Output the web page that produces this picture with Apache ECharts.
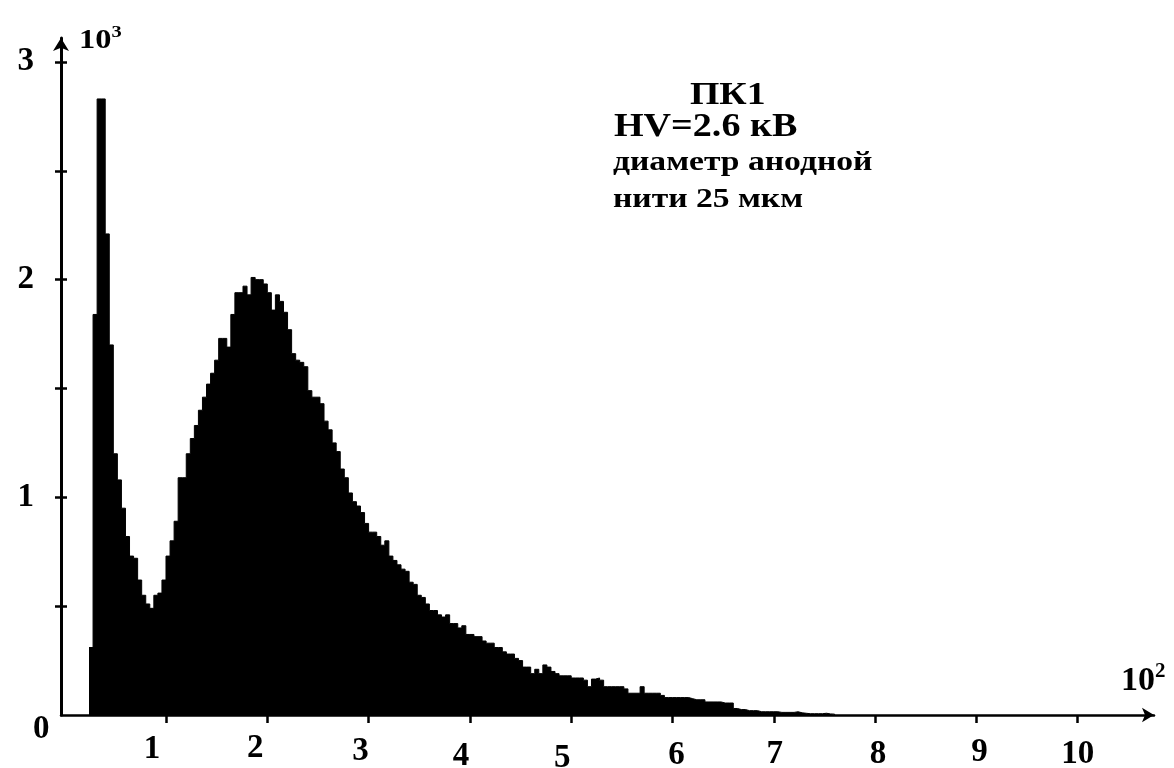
<!DOCTYPE html>
<html>
<head>
<meta charset="utf-8">
<script src="https://cdn.jsdelivr.net/npm/echarts@6/dist/echarts.min.js"></script>
<style>
html,body{margin:0;padding:0;background:#fff;}
#chart{width:1174px;height:768px;}
</style>
</head>
<body>
<div id="chart"></div>
<script>
// ---- data (x in units of 10^2 channels, counts in units of 10^3) ----
const binStart = 0.24;
const binWidth = 0.04;
const counts = [
  0.31, 1.84, 2.83, 2.83, 2.21, 1.70, 1.20, 1.08, 0.95, 0.82,
  0.73, 0.72, 0.62, 0.55, 0.51, 0.49, 0.55, 0.56, 0.62, 0.73,
  0.80, 0.89, 1.09, 1.09, 1.20, 1.27, 1.33, 1.40, 1.46, 1.52,
  1.57, 1.63, 1.73, 1.73, 1.69, 1.84, 1.94, 1.94, 1.97, 1.93,
  2.01, 2.00, 2.00, 1.98, 1.94, 1.86, 1.93, 1.90, 1.85, 1.77,
  1.66, 1.63, 1.62, 1.60, 1.49, 1.46, 1.46, 1.43, 1.35, 1.31,
  1.25, 1.21, 1.13, 1.09, 1.02, 0.98, 0.96, 0.93, 0.88, 0.84,
  0.84, 0.82, 0.78, 0.80, 0.73, 0.71, 0.69, 0.67, 0.66, 0.61,
  0.60, 0.55, 0.54, 0.51, 0.48, 0.48, 0.46, 0.45, 0.46, 0.42,
  0.42, 0.40, 0.41, 0.37, 0.37, 0.36, 0.36, 0.34, 0.33, 0.33,
  0.31, 0.31, 0.29, 0.28, 0.28, 0.26, 0.25, 0.22, 0.22, 0.19,
  0.21, 0.19, 0.23, 0.22, 0.20, 0.19, 0.18, 0.18, 0.18, 0.17,
  0.17, 0.17, 0.16, 0.13, 0.165, 0.17, 0.16, 0.13, 0.13, 0.13,
  0.13, 0.13, 0.12, 0.10, 0.10, 0.10, 0.13, 0.10, 0.10, 0.10,
  0.10, 0.09, 0.08, 0.08, 0.08, 0.08, 0.08, 0.08, 0.075, 0.07,
  0.07, 0.07, 0.06, 0.06, 0.06, 0.06, 0.055, 0.055, 0.055, 0.03,
  0.025, 0.025, 0.02, 0.02, 0.02, 0.015, 0.015, 0.015, 0.015, 0.015,
  0.012, 0.012, 0.012, 0.012, 0.015, 0.01, 0.008, 0.006, 0.006, 0.006,
  0.006, 0.008, 0.005, 0.004
];
const xTickValues = [1, 2, 3, 4, 5, 6, 7, 8, 9, 10];
const yTickValues = [0.5, 1, 1.5, 2, 2.5, 3];
const yLabelValues = [1, 2, 3];
const yZeroLabel = '0';
const xUnitBase = '10';
const xUnitExp = '2';
const yUnitBase = '10';
const yUnitExp = '3';
const annotationLines = ['ПК1', 'HV=2.6 кВ', 'диаметр анодной', 'нити 25 мкм'];

// ---- styles ----
const FONT = "'Liberation Serif', serif";
// hand-placed label shifts in the original figure (pixels)
const xLabelShift = {1:[-14,-4],2:[-12,-5],3:[-8,-2],4:[-9,3],5:[-9,5],6:[4,2],7:[1,1],8:[3,1],9:[3,-1],10:[0,1]};

const stepData = counts.map((v, i) => [binStart + i * binWidth, v]);
stepData.push([binStart + counts.length * binWidth, 0]);

const rich = {};
xTickValues.forEach(v => {
  const s = xLabelShift[v] || [0, 0];
  const dx = s[0], dy = s[1] + 5;
  rich['t' + v] = {
    fontFamily: FONT, fontWeight: 'bold', fontSize: 33, color: '#000',
    padding: [dy, dx < 0 ? -2 * dx : 0, 0, dx > 0 ? 2 * dx : 0]
  };
});

function txt(text, left, top, size, sx) {
  return {type: 'text', left: left, top: top, scaleX: sx, scaleY: 1,
    style: {text: text, fontFamily: FONT, fontWeight: 'bold', fontSize: size, fill: '#000'}};
}

const chart = echarts.init(document.getElementById('chart'), null, {renderer: 'canvas'});
chart.setOption({
  backgroundColor: '#fff',
  animation: false,
  grid: {left: 61, right: 20, top: 38, bottom: 53, containLabel: false, outerBoundsMode: 'none'},
  xAxis: {
    type: 'value', min: -0.0365, max: 10.753,
    axisLine: {show: true, onZero: false, symbol: ['none', 'arrow'], symbolSize: [11, 12],
      lineStyle: {color: '#000', width: 2.5}},
    axisTick: {show: true, customValues: xTickValues, length: 8, inside: false,
      lineStyle: {color: '#000', width: 2.5}},
    axisLabel: {show: true, customValues: xTickValues, margin: 17,
      formatter: v => '{t' + v + '|' + v + '}', rich: rich},
    splitLine: {show: false}
  },
  yAxis: [{
    type: 'value', min: 0, max: 3.11, position: 'left',
    axisLine: {show: true, onZero: false, symbol: ['none', 'arrow'], symbolSize: [12, 13],
      lineStyle: {color: '#000', width: 3}},
    axisTick: {show: true, customValues: yTickValues, length: 6, inside: false,
      lineStyle: {color: '#000', width: 2.5}},
    axisLabel: {show: true, customValues: yLabelValues, margin: 27, padding: [10, 0, 0, 0],
      fontFamily: FONT, fontWeight: 'bold', fontSize: 33, color: '#000'},
    splitLine: {show: false}
  }, {
    type: 'value', min: 0, max: 3.11, position: 'left', offset: 0,
    axisLine: {show: false, onZero: false},
    axisTick: {show: true, customValues: yTickValues, length: 6, inside: true,
      lineStyle: {color: '#000', width: 2.5}},
    axisLabel: {show: false},
    splitLine: {show: false}
  }],
  series: [{
    type: 'line', step: 'end', data: stepData, xAxisIndex: 0, yAxisIndex: 0,
    showSymbol: false, symbol: 'none',
    lineStyle: {color: '#000', width: 1},
    areaStyle: {color: '#000', opacity: 1},
    z: 1
  }],
  graphic: [
    txt(yZeroLabel, 33, 713, 33, 1),
    {type: 'text', left: 79, top: 24, scaleX: 1.2, scaleY: 1, style: {text: '{b|' + yUnitBase + '}{s|' + yUnitExp + '}',
      rich: {b: {fontFamily: FONT, fontWeight: 'bold', fontSize: 27, fill: '#000', padding: [6, 0, 0, 0]},
             s: {fontFamily: FONT, fontWeight: 'bold', fontSize: 17, fill: '#000', padding: [0, 0, 12, 0]}}}},
    {type: 'text', left: 1121, top: 661, style: {text: '{b|' + xUnitBase + '}{s|' + xUnitExp + '}',
      rich: {b: {fontFamily: FONT, fontWeight: 'bold', fontSize: 34, fill: '#000', padding: [8, 0, 0, 0]},
             s: {fontFamily: FONT, fontWeight: 'bold', fontSize: 21, fill: '#000', padding: [0, 0, 12, 0]}}}},
    txt(annotationLines[0], 690, 80, 32, 1.18),
    txt(annotationLines[1], 614, 110, 34, 1.12),
    txt(annotationLines[2], 613, 149, 28, 1.2),
    txt(annotationLines[3], 613, 186, 28, 1.2)
  ]
});
</script>
</body>
</html>
